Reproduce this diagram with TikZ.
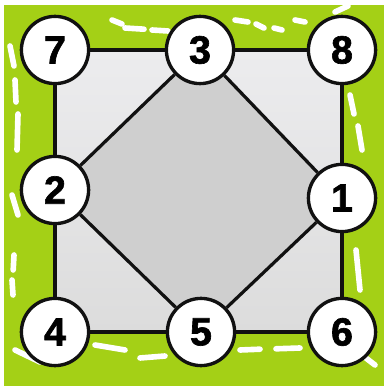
\documentclass[tikz,border=0pt]{standalone}
\usepackage{fontspec}
\newfontfamily\spotfont{Liberation Sans Bold}[FakeBold=1.6]
\usetikzlibrary{backgrounds}
\definecolor{LimeGreen}{HTML}{A4D016}
\definecolor{PanelLight}{HTML}{ECECEE}
\definecolor{PanelDark}{HTML}{DCDCDC}
\definecolor{CoreGray}{HTML}{CFCFCF}
\definecolor{Ink}{HTML}{111111}

\begin{document}
\begin{tikzpicture}[x=1cm,y=1cm,
    spot/.style={circle,draw=Ink,fill=white,line width=2.4pt,minimum size=1.68cm,inner sep=0pt,
                 font=\spotfont\fontsize{28}{28}\selectfont},
    edge/.style={Ink,line width=2.3pt},
    smudge/.style={white,line width=4pt,line cap=round,line join=round}]
  \useasboundingbox (0,0) rectangle (9.6,9.65);

  % numbered spots
  \foreach \lab/\x/\y in {7/1.375/8.4,3/5.0/8.4,8/8.55/8.4,
                          2/1.375/4.9,1/8.55/4.7,
                          4/1.375/1.35,5/5.025/1.35,6/8.55/1.35} {
    \node[spot] (n\lab) at (\x,\y) {\lab};
  }

  \begin{scope}[on background layer]
    \fill[white] (0,0) rectangle (9.6,9.65);
    \fill[LimeGreen] (0.1,0) rectangle (9.6,9.52);
    % rough white edges
    \draw[smudge] (2.8,9.15) -- (3.05,9.05);
    \draw[smudge] (3.125,8.95) -- (3.6,8.92) (3.8,8.9) -- (4.2,8.875);
    \draw[smudge] (5.875,9.15) -- (6.2,9.1) (6.4,9.05) -- (6.6,8.95) (6.85,8.95) -- (7.05,8.9);
    \draw[smudge] (7.375,9.15) -- (7.625,9.1);
    \draw[smudge] (8.375,9.35) -- (8.7,9.5);
    \draw[smudge] (0.25,8.5) -- (0.35,8.0);
    \draw[smudge] (0.375,7.65) -- (0.4,7.1) (0.45,6.8) -- (0.425,5.9);
    \draw[smudge] (0.3,4.775) -- (0.45,4.275);
    \draw[smudge] (0.35,3.275) -- (0.33,2.9) (0.3,2.65) -- (0.325,2.275);
    \draw[smudge] (8.75,7.275) -- (8.85,6.8) (8.95,6.5) -- (9.05,5.9);
    \draw[smudge] (8.9,3.4) -- (9.0,2.4);
    \draw[smudge] (2.375,1.025) -- (3.125,0.9);
    \draw[smudge] (3.5,0.7) -- (4.125,0.75);
    \draw[smudge] (6.0,0.9) -- (6.5,0.92) (6.9,0.93) -- (7.5,0.95);
    \draw[smudge] (0.375,0.9) -- (1.0,0.6);
    \draw[smudge] (9.05,0.775) -- (9.375,0.525);
    % panels
    \shade[top color=PanelLight,bottom color=PanelDark]
      (n7.center) -- (n8.center) -- (n6.center) -- (n4.center) -- cycle;
    \fill[CoreGray] (n3.center) -- (n1.center) -- (n5.center) -- (n2.center) -- cycle;
  \end{scope}

  \draw[edge] (n7) -- (n3);
  \draw[edge] (n3) -- (n8);
  \draw[edge] (n8) -- (n1);
  \draw[edge] (n1) -- (n6);
  \draw[edge] (n6) -- (n5);
  \draw[edge] (n5) -- (n4);
  \draw[edge] (n4) -- (n2);
  \draw[edge] (n2) -- (n7);
  \draw[edge] (n3) -- (n1);
  \draw[edge] (n1) -- (n5);
  \draw[edge] (n5) -- (n2);
  \draw[edge] (n2) -- (n3);
\end{tikzpicture}
\end{document}
